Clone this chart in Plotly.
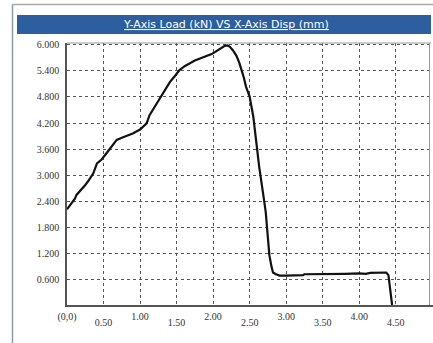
import plotly.graph_objects as go

# Data (displacement mm, load kN)
disp = [0, 0.05, 0.11, 0.13, 0.20, 0.25, 0.30, 0.36, 0.41, 0.47, 0.53, 0.59, 0.64, 0.68,
        0.75, 0.82, 0.90, 1.00, 1.05, 1.09, 1.13, 1.20, 1.27, 1.34, 1.41, 1.48, 1.54, 1.61,
        1.68, 1.75, 1.82, 1.90, 1.98, 2.03, 2.07, 2.12, 2.16, 2.20, 2.23, 2.27, 2.32, 2.36,
        2.39, 2.42, 2.45, 2.50, 2.55, 2.59, 2.63, 2.68, 2.72, 2.75, 2.77, 2.80, 2.82, 2.86,
        2.91, 3.00, 3.10, 3.23, 3.25, 3.40, 3.64, 3.80, 4.00, 4.09, 4.15, 4.23, 4.37, 4.40,
        4.42, 4.45]
load = [2.21, 2.32, 2.46, 2.54, 2.66, 2.77, 2.88, 3.04, 3.27, 3.35, 3.48, 3.62, 3.72, 3.81,
        3.86, 3.90, 3.96, 4.05, 4.12, 4.19, 4.38, 4.58, 4.78, 4.98, 5.15, 5.29, 5.42, 5.51,
        5.58, 5.64, 5.69, 5.74, 5.79, 5.84, 5.88, 5.94, 5.98, 5.99, 5.96, 5.88, 5.75, 5.58,
        5.42, 5.25, 5.04, 4.81, 4.35, 3.70, 3.20, 2.62, 2.15, 1.55, 1.15, 0.88, 0.75, 0.71,
        0.68, 0.68, 0.68, 0.69, 0.71, 0.71, 0.72, 0.72, 0.73, 0.72, 0.74, 0.75, 0.75, 0.69,
        0.42, 0.0]

x_even_vals = [0, 1, 2, 3, 4, 5]
x_even_text = ["(0,0)", "1.00", "2.00", "3.00", "4.00", "5.00"]
x_odd_vals = [0.5, 1.5, 2.5, 3.5, 4.5]
x_odd_text = ["0.50", "1.50", "2.50", "3.50", "4.50"]
y_vals = [0.6, 1.2, 1.8, 2.4, 3.0, 3.6, 4.2, 4.8, 5.4, 6.0]
y_text = ["0.600", "1.200", "1.800", "2.400", "3.000", "3.600", "4.200", "4.800", "5.400", "6.000"]

title_text = "<u>Y-Axis Load (kN) VS X-Axis Disp (mm)</u>"

W, H = 433, 343
L, R, T, B = 67, 0, 43, 38
PW, PH = W - L - R, H - T - B
XMAX = 5.01

def px(xp):
    return (xp - L) / PW

def py(yp):
    return (H - B - yp) / PH

fig = go.Figure()
fig.add_trace(go.Scatter(x=disp, y=load, mode="lines",
                         line=dict(color="#111111", width=2.2), showlegend=False,
                         hoverinfo="skip"))
# empty trace so the second (offset-label) x axis is drawn
fig.add_trace(go.Scatter(x=[], y=[], xaxis="x2", yaxis="y", mode="lines",
                         showlegend=False, hoverinfo="skip"))

tickfont = dict(family="Times New Roman, Liberation Serif, serif", size=10, color="#333333")
grid = dict(showgrid=True, gridcolor="#555555", gridwidth=1, griddash="dot")

fig.update_layout(
    width=W, height=H,
    margin=dict(l=L, r=R, t=T, b=B, pad=0),
    paper_bgcolor="white", plot_bgcolor="white",
    xaxis=dict(range=[0, XMAX], tickvals=x_even_vals, ticktext=x_even_text,
               tickfont=tickfont, ticks="", ticklabelstandoff=1,
               showline=True, linecolor="#555555", linewidth=1.5,
               zeroline=False, **grid),
    xaxis2=dict(range=[0, XMAX], overlaying="x", anchor="y", side="bottom",
                tickvals=x_odd_vals, ticktext=x_odd_text, tickfont=tickfont,
                ticks="", ticklabelstandoff=10, showline=False, zeroline=False, **grid),
    yaxis=dict(range=[0, 6.046], tickvals=y_vals, ticktext=y_text,
               tickfont=tickfont, ticks="", ticklabelstandoff=4,
               showline=True, linecolor="#555555", linewidth=1.5,
               zeroline=False, **grid),
)

shapes = [
    # window outer frame
    dict(type="line", xref="paper", yref="paper", x0=px(12.5), x1=px(433), y0=py(4.5), y1=py(4.5),
         line=dict(color="#a8a8a8", width=1.5)),
    dict(type="line", xref="paper", yref="paper", x0=px(12.5), x1=px(12.5), y0=py(4.5), y1=py(343),
         line=dict(color="#8a9ab0", width=1.5)),
    # title bar
    dict(type="rect", xref="paper", yref="paper", x0=px(17), x1=px(431), y0=py(15), y1=py(34),
         fillcolor="#2d5e9f", line=dict(width=0)),
    # plot frame top and right
    dict(type="line", xref="paper", yref="paper", x0=px(L), x1=px(431), y0=py(43), y1=py(43),
         line=dict(color="#999999", width=1)),
    dict(type="line", xref="paper", yref="paper", x0=px(429.5), x1=px(429.5), y0=py(43), y1=py(305),
         line=dict(color="#999999", width=1)),
]
fig.update_layout(shapes=shapes)

fig.add_annotation(text=title_text, xref="paper", yref="paper", x=px(226), y=py(24.5),
                   xanchor="center", yanchor="middle", showarrow=False,
                   font=dict(family="DejaVu Sans", size=11, color="white"))

fig.write_html("out.html", config={"displayModeBar": False},
               post_script="document.body.style.margin='0';document.body.style.overflow='hidden';")
